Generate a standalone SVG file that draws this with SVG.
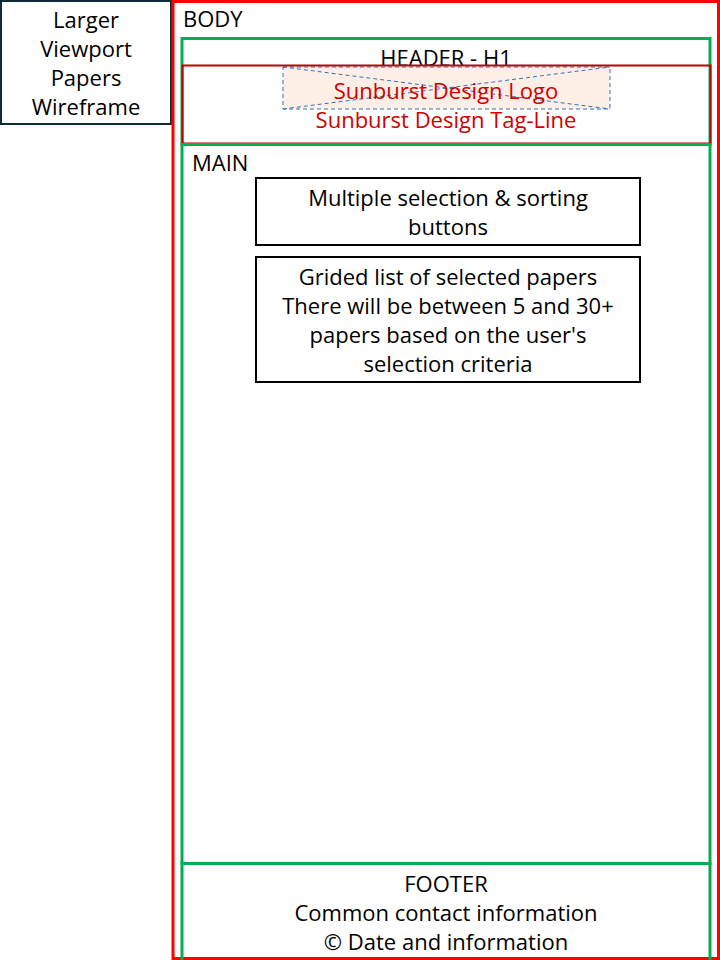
<svg xmlns="http://www.w3.org/2000/svg" width="720" height="960" viewBox="0 0 720 960">
<style>
text{font-family:"Open Sans","Liberation Sans",Arial,sans-serif;font-size:22px;fill:#000}
.c{text-anchor:middle}
.red{fill:#d00000}
.box{fill:#fff;stroke:#000;stroke-width:2}
.green{fill:none;stroke:#00b050;stroke-width:3}
.dash{stroke:#2e75b6;stroke-width:1;stroke-dasharray:4 3;fill:none}
</style>
<rect x="0" y="0" width="720" height="960" fill="#fff"/>
<g id="title">
<rect x="1" y="1" width="170" height="123" fill="#fff" stroke="#0e2b3c" stroke-width="2"/>
<text class="c" x="86" y="28">Larger</text>
<text class="c" x="86" y="57">Viewport</text>
<text class="c" x="86" y="86">Papers</text>
<text class="c" x="86" y="115">Wireframe</text>
</g>
<g id="body">
<rect x="173" y="1.5" width="545.5" height="957" fill="none" stroke="#ff0000" stroke-width="3"/>
<text x="183" y="27">BODY</text>
</g>
<g id="header">
<rect x="182" y="38.5" width="528" height="106" class="green"/>
<text class="c" x="446" y="66">HEADER - H1</text>
</g>
<g id="logo">
<rect x="283" y="67" width="327" height="42" fill="#fdeee6"/>
<g class="dash">
<rect x="283" y="67" width="327" height="42"/>
<line x1="283" y1="67" x2="610" y2="109"/>
<line x1="283" y1="109" x2="610" y2="67"/>
</g>
</g>
<g id="tagline">
<rect x="182.5" y="65.5" width="528" height="78" fill="none" stroke="#c00000" stroke-width="2"/>
<text class="c red" x="446" y="99">Sunburst Design Logo</text>
<text class="c red" x="446" y="128">Sunburst Design Tag-Line</text>
</g>
<g id="main">
<rect x="182" y="144.5" width="528" height="719" class="green"/>
<text x="192" y="171">MAIN</text>
</g>
<g id="buttons">
<rect x="256" y="178" width="384" height="67" class="box"/>
<text class="c" x="448" y="206">Multiple selection &amp; sorting</text>
<text class="c" x="448" y="235">buttons</text>
</g>
<g id="grid">
<rect x="256" y="257" width="384" height="125" class="box"/>
<text class="c" x="448" y="285">Grided list of selected papers</text>
<text class="c" x="448" y="314">There will be between 5 and 30+</text>
<text class="c" x="448" y="343">papers based on the user's</text>
<text class="c" x="448" y="372">selection criteria</text>
</g>
<g id="footer">
<rect x="182" y="863.5" width="528" height="100" class="green"/>
<text class="c" x="446" y="892">FOOTER</text>
<text class="c" x="446" y="921">Common contact information</text>
<text class="c" x="446" y="950">© Date and information</text>
</g>
<g id="connectors"></g>
</svg>
